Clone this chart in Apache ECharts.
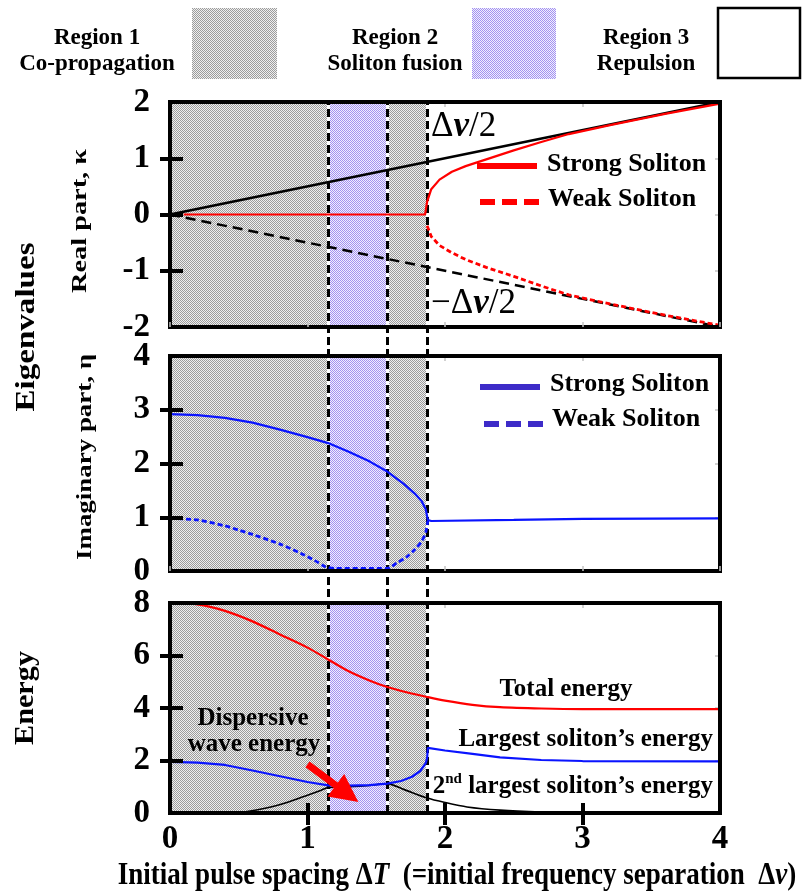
<!DOCTYPE html>
<html>
<head>
<meta charset="utf-8">
<script src="https://cdn.jsdelivr.net/npm/echarts@6/dist/echarts.min.js"></script>
<style>
  html, body { margin: 0; padding: 0; background: #fff; }
  #chart { width: 805px; height: 895px; }
</style>
</head>
<body>
<div id="chart"></div>
<script>
// Two-soliton interaction: eigenvalues (real / imaginary part) and energies
// versus the initial pulse spacing ΔT.

// Region boundaries along ΔT: co-propagation | fusion | co-propagation | repulsion
const regionBounds = [0, 1.15, 1.58, 1.87, 4];

// Real part κ
const halfSepX = [0, 4];
const halfSepPos = [0, 2];      // +Δν/2
const halfSepNeg = [0, -2];     // −Δν/2
const kappaStrongX = [0.1, 1.0, 1.855, 1.87, 1.9, 1.96, 2.05, 2.15, 2.3, 2.5, 2.7, 2.9, 3.2, 3.6, 4.0];
const kappaStrong  = [0, 0, 0, 0.23, 0.45, 0.62, 0.76, 0.86, 0.98, 1.14, 1.29, 1.43, 1.59, 1.79, 1.97];
const kappaWeakX = [1.87, 1.9, 1.96, 2.05, 2.15, 2.3, 2.5, 2.7, 2.9, 3.2, 3.6, 4.0];
const kappaWeak  = [-0.2, -0.39, -0.55, -0.68, -0.8, -0.94, -1.1, -1.27, -1.43, -1.59, -1.79, -1.97];

// Imaginary part η
const etaStrongX = [0, 0.2, 0.4, 0.6, 0.8, 1.0, 1.15, 1.3, 1.45, 1.58, 1.7, 1.78, 1.83, 1.86, 1.875, 1.9, 2.5, 3.0, 4.0];
const etaStrong  = [2.92, 2.9, 2.85, 2.76, 2.63, 2.49, 2.38, 2.22, 2.04, 1.85, 1.62, 1.44, 1.3, 1.15, 0.95, 0.93, 0.95, 0.97, 0.98];
const etaWeakX = [0, 0.2, 0.4, 0.5, 0.6, 0.8, 0.95, 1.05, 1.13, 1.2, 1.58, 1.65, 1.72, 1.78, 1.83, 1.86, 1.875];
const etaWeak  = [0.98, 0.95, 0.84, 0.76, 0.68, 0.5, 0.33, 0.2, 0.08, 0.05, 0.05, 0.15, 0.26, 0.4, 0.55, 0.72, 0.93];

// Energies
const totalX = [0, 0.2, 0.4, 0.6, 0.8, 1.0, 1.15, 1.3, 1.45, 1.58, 1.72, 1.87, 2.0, 2.2, 2.4, 2.7, 3.0, 4.0];
const totalE = [8, 7.95, 7.7, 7.3, 6.8, 6.3, 5.85, 5.4, 5.05, 4.8, 4.6, 4.42, 4.28, 4.12, 4.03, 3.98, 3.96, 3.96];
const largestX = [0, 0.2, 0.4, 0.6, 0.8, 1.0, 1.15, 1.3, 1.45, 1.58, 1.68, 1.76, 1.82, 1.86, 1.87, 1.875, 2.0, 2.2, 2.4, 2.7, 3.0, 4.0];
const largestE = [1.95, 1.92, 1.83, 1.62, 1.4, 1.18, 1.05, 1.04, 1.06, 1.12, 1.22, 1.38, 1.6, 1.9, 2.1, 2.48, 2.38, 2.25, 2.12, 2.02, 1.98, 1.97];
const secondX = [0, 0.3, 0.5, 0.7, 0.85, 1.0, 1.1, 1.15, 1.3, 1.45, 1.58, 1.7, 1.87, 2.0, 2.16, 2.4, 2.7, 3.0, 4.0];
const secondE = [0, 0, 0.02, 0.19, 0.4, 0.68, 0.87, 0.97, 1.0, 1.05, 1.12, 0.9, 0.57, 0.4, 0.23, 0.11, 0.04, 0.01, 0];

// Dispersive-wave pointer (ΔT, energy)
const arrowFrom = [1.0, 1.85];
const arrowTo = [1.37, 0.42];

// Axis ticks
const kappaTicks = [-1, 0, 1];
const etaTicks = [1, 2, 3];
const energyTicks = [2, 4, 6];
const spacingTicks = [1, 2, 3];

const FONT = "'Liberation Serif','Times New Roman',serif";
const BLACK = '#000';

const pts = (xs, ys) => xs.map((x, i) => [x, ys[i]]);

// Fine stipple fills for the shaded regions
function stipple(dark, light) {
  const c = document.createElement('canvas');
  c.width = 2; c.height = 2;
  const g = c.getContext('2d');
  g.fillStyle = light; g.fillRect(0, 0, 2, 2);
  g.fillStyle = dark; g.fillRect(0, 0, 1, 1); g.fillRect(1, 1, 1, 1);
  return c;
}
const grayFill = { image: stipple('#9c9c9c', '#efefef'), repeat: 'repeat' };
const purpleFill = { image: stipple('#a392f0', '#f1eefe'), repeat: 'repeat' };

const measureCtx = document.createElement('canvas').getContext('2d');
function textWidth(str, font) { measureCtx.font = font; return measureCtx.measureText(str).width; }

// Panel layout
const panels = [
  { top: 102, height: 225, min: -2, max: 2, interval: 1, ticks: kappaTicks },
  { top: 356, height: 215, min: 0, max: 4, interval: 1, ticks: etaTicks },
  { top: 603, height: 210, min: 0, max: 8, interval: 2, ticks: energyTicks }
];
const LEFT = 170, RIGHT = 85;

const grids = panels.map(p => ({
  left: LEFT, right: RIGHT, top: p.top, height: p.height,
  show: true, borderColor: BLACK, borderWidth: 4, backgroundColor: 'transparent', z: 10
}));
grids.push({ left: LEFT, right: RIGHT, top: 102, height: 711, show: false });

const xAxes = [], yAxes = [], X = [], Y = [];
const lbl = { fontFamily: FONT, fontWeight: 'bold', fontSize: 33, color: BLACK };
const grayTick = { show: true, inside: true, length: 5, lineStyle: { color: '#c4c4c4', width: 1.5 } };
const noLine = { show: false, onZero: false };

panels.forEach((p, i) => {
  const isLast = i === panels.length - 1;
  X[i] = xAxes.length;
  xAxes.push({
    type: 'value', gridIndex: i, min: 0, max: 4, interval: 1, position: 'bottom',
    axisLine: noLine, splitLine: { show: false }, z: 11,
    axisTick: isLast
      ? { show: true, customValues: spacingTicks, length: 12, lineStyle: { color: BLACK, width: 4 } }
      : grayTick,
    axisLabel: isLast ? Object.assign({ margin: 10 }, lbl) : { show: false }
  });
  xAxes.push({
    type: 'value', gridIndex: i, min: 0, max: 4, interval: 1, position: 'top',
    axisLine: noLine, splitLine: { show: false }, axisTick: grayTick, axisLabel: { show: false }
  });
  if (isLast) {
    xAxes.push({
      type: 'value', gridIndex: i, min: 0, max: 4, interval: 1, position: 'bottom', z: 11,
      axisLine: noLine, splitLine: { show: false }, axisLabel: { show: false },
      axisTick: { show: true, inside: true, customValues: spacingTicks, length: 10, lineStyle: { color: BLACK, width: 4 } }
    });
  }
  Y[i] = yAxes.length;
  const base = { type: 'value', gridIndex: i, min: p.min, max: p.max, interval: p.interval,
                 axisLine: noLine, splitLine: { show: false } };
  yAxes.push(Object.assign({}, base, {
    position: 'left', z: 11,
    axisTick: { show: true, customValues: p.ticks, length: 10, lineStyle: { color: BLACK, width: 4 } },
    axisLabel: Object.assign({ margin: 20 }, lbl)
  }));
  yAxes.push(Object.assign({}, base, {
    position: 'left', z: 11, axisLabel: { show: false },
    axisTick: { show: true, inside: true, customValues: p.ticks, length: 13, lineStyle: { color: BLACK, width: 4 } }
  }));
  yAxes.push(Object.assign({}, base, { position: 'right', axisLabel: { show: false }, axisTick: grayTick }));
});
const XO = xAxes.length; xAxes.push({ type: 'value', gridIndex: 3, min: 0, max: 4, show: false });
const YO = yAxes.length; yAxes.push({ type: 'value', gridIndex: 3, min: 0, max: 1, show: false });

// Shaded regions (region 1 gray, region 2 purple)
const shadedAreas = [
  [{ xAxis: regionBounds[0], itemStyle: { color: grayFill, opacity: 1 } }, { xAxis: regionBounds[1] }],
  [{ xAxis: regionBounds[1], itemStyle: { color: purpleFill, opacity: 1 } }, { xAxis: regionBounds[2] }],
  [{ xAxis: regionBounds[2], itemStyle: { color: grayFill, opacity: 1 } }, { xAxis: regionBounds[3] }]
];

const series = [];
panels.forEach((p, i) => {
  series.push({
    type: 'line', xAxisIndex: X[i], yAxisIndex: Y[i], data: [], z: 1, silent: true,
    markArea: { silent: true, data: shadedAreas }
  });
});

function curve(xs, ys, panel, lineStyle, smooth) {
  return {
    type: 'line', xAxisIndex: X[panel], yAxisIndex: Y[panel], data: pts(xs, ys),
    symbol: 'none', showSymbol: false, silent: true, z: 6, lineStyle,
    smooth: smooth || false
  };
}

const RED = '#ff0000', BLUE = '#0a14ff';
series.push(curve(halfSepX, halfSepPos, 0, { color: BLACK, width: 2.5 }));
series.push(curve(halfSepX, halfSepNeg, 0, { color: BLACK, width: 2.5, type: [10, 6] }));
series.push(curve(kappaStrongX, kappaStrong, 0, { color: RED, width: 2.2 }));
series.push(curve(kappaWeakX, kappaWeak, 0, { color: RED, width: 2.8, type: [5, 3] }));

series.push(curve(etaStrongX, etaStrong, 1, { color: BLUE, width: 2.2 }));
series.push(curve(etaWeakX, etaWeak, 1, { color: BLUE, width: 2.8, type: [5, 3] }, 0.25));

series.push(curve(totalX, totalE, 2, { color: RED, width: 2.2 }, 0.3));
series.push(curve(secondX, secondE, 2, { color: BLACK, width: 1.6 }, 0.25));
series.push(curve(largestX, largestE, 2, { color: BLUE, width: 2.2 }));

// Region boundaries crossing all three panels
const boundaryLines = regionBounds.slice(1, 4).map(v => ({ xAxis: v }));
series.push({
  type: 'line', xAxisIndex: XO, yAxisIndex: YO, data: [], z: 4, silent: true,
  markLine: { silent: true, symbol: ['none', 'none'], label: { show: false },
              lineStyle: { color: '#fff', width: 3, type: 'solid' }, data: boundaryLines }
});
series.push({
  type: 'line', xAxisIndex: XO, yAxisIndex: YO, data: [], z: 5, silent: true,
  markLine: { silent: true, symbol: ['none', 'none'], label: { show: false },
              lineStyle: { color: BLACK, width: 3, type: [8, 4] }, data: boundaryLines }
});

// Text helpers
function txt(str, x, y, size, align, extra) {
  return Object.assign({
    type: 'text', x, y, z: 100,
    style: { text: str, font: `bold ${size}px ${FONT}`, fill: BLACK,
             align: align || 'center', textAlign: align || 'center',
             verticalAlign: 'middle', textVerticalAlign: 'middle' }
  }, extra || {});
}
function vtxt(str, x, y, size, length) {
  const w = textWidth(str, `bold ${size}px ${FONT}`);
  return txt(str, x, y, size, 'center', { rotation: Math.PI / 2, scaleX: length / w });
}
function legendLine(x1, x2, y, color, dash) {
  return { type: 'line', z: 100, shape: { x1, y1: y, x2, y2: y },
           style: { stroke: color, lineWidth: 6, lineDash: dash || null } };
}

const halfRich = {
  d: { fontFamily: FONT, fontSize: 35, fill: BLACK },
  n: { fontFamily: FONT, fontSize: 35, fontWeight: 'bold', fontStyle: 'italic', fill: BLACK }
};

const titleStr = 'Initial pulse spacing ΔT  (=initial frequency separation  Δν)';
const titleFont = `bold 31px ${FONT}`;
const titleScale = 680 / textWidth(titleStr, titleFont);

const LEG_BLUE = '#3d2bc8';

const graphic = [
  // Region legend
  txt('Region 1', 97, 38, 23), txt('Co-propagation', 97, 64, 23),
  { type: 'rect', z: 100, shape: { x: 192, y: 8, width: 85, height: 71 }, style: { fill: grayFill } },
  txt('Region 2', 395, 38, 23), txt('Soliton fusion', 395, 64, 23),
  { type: 'rect', z: 100, shape: { x: 472, y: 8, width: 84, height: 71 }, style: { fill: purpleFill } },
  txt('Region 3', 646, 38, 23), txt('Repulsion', 646, 64, 23),
  { type: 'rect', z: 100, shape: { x: 718, y: 8, width: 82, height: 70 }, style: { fill: '#fff', stroke: BLACK, lineWidth: 2.5 } },

  // Real-part panel annotations
  { type: 'text', x: 431, y: 127, z: 100,
    style: { text: '{d|Δ}{n|ν}{d|/2}', rich: halfRich, align: 'left', textAlign: 'left', verticalAlign: 'middle', textVerticalAlign: 'middle' } },
  { type: 'text', x: 431, y: 304, z: 100,
    style: { text: '{d|−Δ}{n|ν}{d|/2}', rich: halfRich, align: 'left', textAlign: 'left', verticalAlign: 'middle', textVerticalAlign: 'middle' } },
  legendLine(477, 537, 166, RED),
  txt('Strong Soliton', 547, 164, 26, 'left'),
  legendLine(480, 540, 202, RED, [15, 7]),
  txt('Weak Soliton', 548, 199, 26, 'left'),

  // Imaginary-part panel legend
  legendLine(480, 540, 387, LEG_BLUE),
  txt('Strong Soliton', 550, 384, 26, 'left'),
  legendLine(484, 543, 424, LEG_BLUE, [15, 7]),
  txt('Weak Soliton', 552, 419, 26, 'left'),

  // Energy panel labels
  txt('Dispersive', 253, 719, 25),
  txt('wave energy', 254, 745, 25),
  txt('Total energy', 566, 690, 25),
  txt('Largest soliton’s energy', 713, 740, 25, 'right'),
  { type: 'text', x: 713, y: 787, z: 100,
    style: {
      text: '{a|2}{s|nd}{a| largest soliton’s energy}', align: 'right', textAlign: 'right',
      verticalAlign: 'middle', textVerticalAlign: 'middle',
      rich: {
        a: { fontFamily: FONT, fontWeight: 'bold', fontSize: 25, lineHeight: 30, fill: BLACK },
        s: { fontFamily: FONT, fontWeight: 'bold', fontSize: 15, lineHeight: 30, verticalAlign: 'top', fill: BLACK }
      }
    } },

  // Axis titles
  vtxt('Real part, κ', 81, 221, 21, 144),
  vtxt('Imaginary part, η', 86, 457, 21, 206),
  vtxt('Eigenvalues', 27, 327, 27, 169),
  vtxt('Energy', 26, 698, 27, 94),
  { type: 'text', x: 457, y: 876, z: 100, scaleX: titleScale,
    style: {
      text: '{b|Initial pulse spacing Δ}{i|T}{b|  (=initial frequency separation  Δ}{i|ν}{b|)}',
      align: 'center', textAlign: 'center', verticalAlign: 'middle', textVerticalAlign: 'middle',
      rich: {
        b: { fontFamily: FONT, fontWeight: 'bold', fontSize: 31, fill: BLACK },
        i: { fontFamily: FONT, fontWeight: 'bold', fontStyle: 'italic', fontSize: 31, fill: BLACK }
      }
    } }
];

const chart = echarts.init(document.getElementById('chart'), null, { renderer: 'canvas' });
chart.setOption({
  animation: false,
  backgroundColor: '#fff',
  grid: grids,
  xAxis: xAxes,
  yAxis: yAxes,
  series
});

// Red pointer to the dispersive-wave energy, placed through the energy axes
const finder = { xAxisIndex: X[2], yAxisIndex: Y[2] };
const a0 = chart.convertToPixel(finder, arrowFrom);
const a1 = chart.convertToPixel(finder, arrowTo);
const dx = a1[0] - a0[0], dy = a1[1] - a0[1];
const len = Math.hypot(dx, dy);
const ux = dx / len, uy = dy / len, nx = -uy, ny = ux;
const headL = 28, headW = 14;
const bx = a1[0] - ux * headL, by = a1[1] - uy * headL;
graphic.push({
  type: 'line', z: 90,
  shape: { x1: a0[0], y1: a0[1], x2: bx + ux * 4, y2: by + uy * 4 },
  style: { stroke: RED, lineWidth: 7 }
});
graphic.push({
  type: 'polygon', z: 90,
  shape: { points: [[a1[0], a1[1]], [bx + nx * headW, by + ny * headW], [bx - nx * headW, by - ny * headW]] },
  style: { fill: RED }
});

chart.setOption({ graphic });
</script>
</body>
</html>
